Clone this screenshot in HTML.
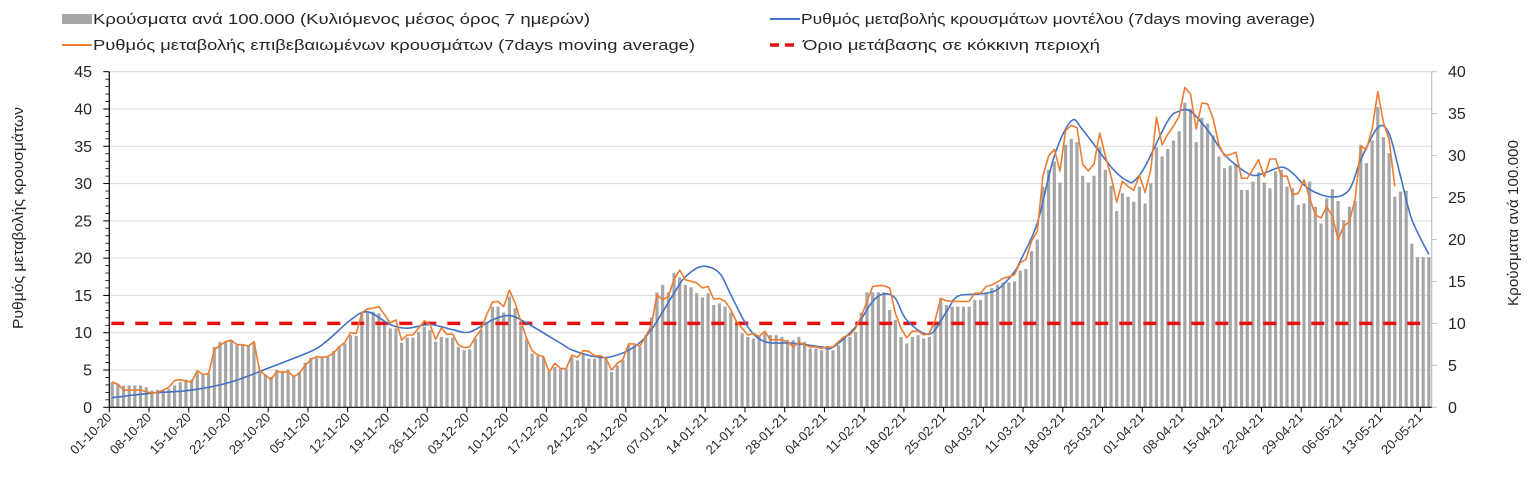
<!DOCTYPE html>
<html><head><meta charset="utf-8"><style>
html,body{margin:0;padding:0;background:#fff;}
svg{display:block;font-family:"Liberation Sans",sans-serif;}
</style></head><body>
<svg id="chart" width="1534" height="486" viewBox="0 0 1534 486" xmlns="http://www.w3.org/2000/svg">
<g id="legend">
 <g>
  <rect x="62" y="14" width="30" height="10" fill="#a6a6a6"/>
  <text x="93" y="24" font-size="15" fill="#262626" textLength="497" lengthAdjust="spacingAndGlyphs">Κρούσματα ανά 100.000 (Κυλιόμενος μέσος όρος 7 ημερών)</text>
 </g>
 <g>
  <line x1="770" y1="19" x2="800" y2="19" stroke="#4472c4" stroke-width="2"/>
  <text x="801" y="24" font-size="15" fill="#262626" textLength="514" lengthAdjust="spacingAndGlyphs">Ρυθμός μεταβολής κρουσμάτων μοντέλου (7days moving average)</text>
 </g>
 <g>
  <line x1="62" y1="45" x2="92" y2="45" stroke="#ed7d31" stroke-width="2"/>
  <text x="93" y="50" font-size="15" fill="#262626" textLength="602" lengthAdjust="spacingAndGlyphs">Ρυθμός μεταβολής επιβεβαιωμένων κρουσμάτων (7days moving average)</text>
 </g>
 <g>
  <line x1="770" y1="45" x2="800" y2="45" stroke="#e81010" stroke-width="3.5" stroke-dasharray="9 6"/>
  <text x="803" y="50" font-size="15" fill="#262626" textLength="297" lengthAdjust="spacingAndGlyphs">Όριο μετάβασης σε κόκκινη περιοχή</text>
 </g>
</g>
<text transform="translate(23,218) rotate(-90)" text-anchor="middle" font-size="15" fill="#262626" textLength="222" lengthAdjust="spacingAndGlyphs">Ρυθμός μεταβολής κρουσμάτων</text>
<text transform="translate(1518,223) rotate(-90)" text-anchor="middle" font-size="15" fill="#262626" textLength="166" lengthAdjust="spacingAndGlyphs">Κρούσματα ανά 100.000</text>
<g id="grid"></g>
<g id="bars"></g>
<g id="lines"></g>
<g id="axes"></g>
</svg>
<script>
const tickLabels = ["01-10-20","08-10-20","15-10-20","22-10-20","29-10-20","05-11-20","12-11-20","19-11-20","26-11-20","03-12-20","10-12-20","17-12-20","24-12-20","31-12-20","07-01-21","14-01-21","21-01-21","28-01-21","04-02-21","11-02-21","18-02-21","25-02-21","04-03-21","11-03-21","18-03-21","25-03-21","01-04-21","08-04-21","15-04-21","22-04-21","29-04-21","06-05-21","13-05-21","20-05-21"];
const cases = [3.0,2.8,2.6,2.6,2.6,2.6,2.4,
2.0,2.1,2.0,2.2,2.6,3.0,3.3,
3.3,4.3,3.9,4.0,7.2,7.8,7.8,
8.0,7.4,7.4,7.4,7.7,4.4,3.9,
3.6,4.5,4.3,4.5,3.7,4.2,5.3,
5.9,5.9,5.9,6.0,6.7,7.3,7.6,
8.6,8.5,11.2,11.4,11.4,11.2,10.0,
9.4,9.4,7.7,8.3,8.3,9.0,9.6,
9.2,7.8,8.4,8.3,8.3,7.2,6.8,
6.9,8.2,9.2,10.2,12.0,12.0,11.3,
13.2,11.8,9.7,8.2,6.4,6.1,6.0,
4.2,4.8,4.6,4.6,6.0,5.6,6.4,
5.8,5.8,6.2,6.0,4.2,5.0,5.6,
7.4,7.4,7.2,8.6,
10.7,13.7,14.6,13.7,16,15.5,14.6,14.3,13.6,13.1,13.6,12.2,12.4,12,11.3,10,8.8,8.4,8.2,8.4,9,8.6,8.6,8.4,8,8,8.4,7.8,7,7,6.8,7.2,6.8,7.4,8.2,8.4,9,11.3,13.7,13.7,13.7,13.7,11.6,10.4,8.4,7.6,8.4,8.6,8.2,8.4,10.1,13,12.2,12,12,12,12,12.8,12.8,13.6,14.2,14.6,14.9,14.9,
15.0,
16.3,16.5,18.6,20,26.3,28.3,29.3,26.8,31.3,32,
31.6,27.6,26.8,27.6,31,28.3,26.4,23.4,25.5,25.1,
24.5,26.3,24.3,26.7,31,29.9,30.8,31.8,32.9,36.3,
35.6,31.6,34.5,33.8,32.4,29.9,28.5,28.8,29,25.9,
25.9,26.9,28,26.8,26.1,28.1,28.3,26.3,26.1,24.1,
24.3,26.9,23.9,21.9,24.9,26,24.6,22.3,23.9,24.6,
31.3,29.1,31.8,35.8,32.2,30.3,25.1,25.7,25.8,19.5,
17.9,17.9,17.9];
const confirmedRate = [3.4,3.1,2.3,2.3,2.3,2.3,2.1,1.9,2.0,2.3,2.7,3.6,3.7,3.5,3.4,4.9,4.4,4.5,
7.7,8.3,8.8,9.0,8.4,8.4,8.2,8.8,4.9,4.3,3.7,4.8,4.7,4.8,4.1,4.6,5.6,6.4,6.8,6.7,6.8,7.3,8.1,8.7,10.0,9.9,12.7,13.2,13.3,
13.5,12.4,11.3,11.7,9.0,9.7,9.7,10.6,11.6,11.1,9.1,10.6,9.8,9.8,8.4,8.0,8.1,9.4,10.4,12.4,14.1,14.2,13.5,15.7,14.0,11.5,9.3,7.6,7.0,6.8,4.7,5.9,5.2,5.2,7.0,
6.7,7.6,7.5,6.9,6.9,6.6,5.0,5.9,6.4,8.5,8.5,8.2,9.5,
10.9,15.1,14.4,14.9,17.1,18.4,17.1,16.9,16.7,16.0,16.2,14.5,14.6,14.2,13.1,11.5,10.6,9.7,9.9,9.5,10.2,9.0,9.1,9.0,8.8,8.1,8.7,8.4,8.1,8.1,7.9,8.1,8.1,8.8,9.5,9.7,10.6,12.2,14.2,16.2,16.3,16.3,16.0,12.6,10.6,9.3,10.2,10.2,9.7,9.9,11.7,14.6,14.3,14.2,14.2,14.2,14.2,15.3,15.3,16.2,16.4,16.8,17.3,17.5,17.8,
19.4,19.8,22.3,23.6,31.0,33.7,34.6,31.7,37.1,37.8,
37.5,32.6,31.7,32.6,36.8,33.7,31.0,27.5,30.3,29.6,
29.1,31.1,28.8,31.9,38.9,35.2,36.6,37.7,39.0,42.9,
42.0,37.3,40.8,40.7,38.7,35.2,33.7,33.9,34.2,30.7,
30.7,31.9,33.2,30.9,33.3,33.3,31.0,31.0,28.5,28.7,
30.5,28.0,25.8,25.4,26.9,25.6,22.5,24.3,24.9,27.9,
35.0,34.6,37.3,42.3,38.2,35.9,29.6];
const modelDays = [0,7,14,21,28,35,38,42,45,49,52,56,60,63,67,70,73,79,81,85,88,92,95,99,101,104,107,109,112,115,120,125,127,131,134,136,138,140,144,147,149,153,156,159,160,163,166,169,171,175,177,179,180,182,186,188,190,193,196,199,201,203,206,208,211,215,218,220,223,225,227,229,232];
const modelRate = [1.3,1.9,2.3,3.4,5.4,7.5,9.0,11.7,12.8,11.1,10.6,11.1,10.4,10.1,11.7,12.3,11.3,8.6,7.7,6.8,6.8,8.1,10.4,15.3,17.5,18.9,18.0,15.1,10.8,8.8,8.6,8.1,8.05,10.8,14.2,15.2,14.6,11.7,9.8,12.8,14.9,15.2,15.8,18.2,19.6,24.7,33.7,38.4,37.2,33.2,31.4,30.3,30.3,32.3,38.4,39.7,39.7,37.2,33.9,31.9,31.1,31.4,32.2,31.4,29.2,28.2,29.2,33.2,37.5,36.7,31.0,25.2,20.5];
const threshold = [10];
const leftTicks = [0,5,10,15,20,25,30,35,40,45];
const rightTicks = [0,5,10,15,20,25,30,35,40];

const NS="http://www.w3.org/2000/svg";
const X0=109.3, X1=1431.7, Y0=407.3, YT=71.7;
const N=cases.length;
const cw=(X1-X0)/N;
const xC=i=>X0+cw*(i+0.5);
const xB=i=>X0+cw*i;
const yL=v=>Y0-(v/45)*(Y0-YT);
const yR=v=>Y0-(v/40)*(Y0-YT);
function mk(tag,attrs,parent){const e=document.createElementNS(NS,tag);for(const k in attrs)e.setAttribute(k,attrs[k]);parent.appendChild(e);return e;}
const grid=document.getElementById('grid'),bars=document.getElementById('bars'),lines=document.getElementById('lines'),axes=document.getElementById('axes');

leftTicks.forEach(v=>{
 if(v>0){const g=mk('line',{x1:X0,x2:X1,y1:yL(v),y2:yL(v),stroke:'#d9d9d9','stroke-width':1},grid);
 
 }
 const t=mk('text',{x:92,y:yL(v)+5.5,'text-anchor':'end','font-size':16,fill:'#262626'},axes);
 t.textContent=v;
 
 
 mk('line',{x1:X0-6,x2:X0,y1:yL(v),y2:yL(v),stroke:'#000','stroke-width':1},axes);
});
for(let v=1;v<45;v++){ if(v%5) mk('line',{x1:X0-4,x2:X0,y1:yL(v),y2:yL(v),stroke:'#000','stroke-width':0.8},axes); }
rightTicks.forEach(v=>{
 const t=mk('text',{x:1448,y:yR(v)+5.5,'font-size':16,fill:'#262626'},axes);
 t.textContent=v;
 
 
 mk('line',{x1:X1,x2:X1+5,y1:yR(v),y2:yR(v),stroke:'#bfbfbf','stroke-width':1},axes);
});

cases.forEach((v,i)=>{
 const r=mk('rect',{x:xC(i)-1.6,y:yR(v),width:3.2,height:Y0-yR(v),fill:'#a6a6a6'},bars);
 
 
});

const th=mk('line',{x1:X0+2,x2:X1,y1:yR(threshold[0]),y2:yR(threshold[0]),stroke:'#e81010','stroke-width':3.5,'stroke-dasharray':'13 11'},lines);



function spline(pts){let d='M'+pts[0][0]+','+pts[0][1];
 for(let i=0;i<pts.length-1;i++){const p0=pts[Math.max(0,i-1)],p1=pts[i],p2=pts[i+1],p3=pts[Math.min(pts.length-1,i+2)];
  const c1=[p1[0]+(p2[0]-p0[0])/6,p1[1]+(p2[1]-p0[1])/6],c2=[p2[0]-(p3[0]-p1[0])/6,p2[1]-(p3[1]-p1[1])/6];
  d+=' C'+c1[0].toFixed(1)+','+c1[1].toFixed(1)+' '+c2[0].toFixed(1)+','+c2[1].toFixed(1)+' '+p2[0].toFixed(1)+','+p2[1].toFixed(1);}
 return d;}
const bl=mk('path',{d:spline(modelDays.map((d,i)=>[xC(d),yL(modelRate[i])])),fill:'none',stroke:'#4472c4','stroke-width':1.6},lines);


const ol=mk('polyline',{points:confirmedRate.map((v,i)=>xC(i).toFixed(1)+','+yL(v).toFixed(1)).join(' '),fill:'none',stroke:'#ed7d31','stroke-width':1.6,'stroke-linejoin':'round'},lines);



mk('line',{x1:X0,x2:X0,y1:YT,y2:Y0,stroke:'#000','stroke-width':1.2},axes);
mk('line',{x1:X1,x2:X1,y1:YT,y2:Y0,stroke:'#bfbfbf','stroke-width':1.2},axes);
mk('line',{x1:X0,x2:X1,y1:Y0,y2:Y0,stroke:'#000','stroke-width':1.2},axes);
tickLabels.forEach((lab,k)=>{
 const x=xB(7*k);
 mk('line',{x1:x,x2:x,y1:Y0,y2:Y0+5,stroke:'#000','stroke-width':1},axes);
 const t=mk('text',{transform:'translate('+(x+3)+','+(Y0+11)+') rotate(-45)','text-anchor':'end','font-size':13,fill:'#262626'},axes);
 t.textContent=lab;
 
 
});
</script>
</body></html>
